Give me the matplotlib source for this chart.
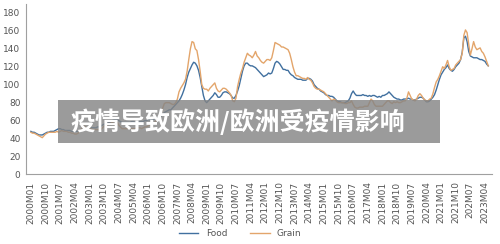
import matplotlib
matplotlib.use('Agg')
import matplotlib.pyplot as plt
from matplotlib.patches import Rectangle

# monthly index values, 2000M01 .. 2023M06
food_by_year = [
    [48, 47, 47, 46, 45, 44, 44, 44, 45, 46, 47, 47],   # 2000
    [48, 48, 48, 49, 50, 51, 51, 50, 50, 49, 49, 49],   # 2001
    [49, 48, 48, 48, 48, 48, 48, 49, 50, 51, 51, 51],   # 2002
    [52, 52, 52, 52, 52, 53, 53, 54, 55, 56, 57, 57],   # 2003
    [58, 58, 60, 61, 61, 61, 60, 59, 58, 58, 58, 58],   # 2004
    [58, 58, 59, 59, 58, 58, 58, 59, 59, 59, 60, 60],   # 2005
    [61, 61, 61, 61, 62, 62, 63, 64, 65, 67, 69, 70],   # 2006
    [71, 72, 72, 74, 76, 78, 80, 82, 85, 89, 94, 100],  # 2007
    [108, 114, 118, 122, 125, 124, 121, 116, 108, 98, 88, 82],  # 2008
    [80, 82, 84, 86, 88, 91, 89, 86, 86, 88, 91, 92],   # 2009
    [92, 91, 90, 88, 85, 85, 88, 93, 99, 107, 115, 121],  # 2010
    [124, 124, 122, 121, 121, 120, 119, 117, 115, 113, 111, 109],  # 2011
    [110, 111, 113, 112, 113, 118, 124, 126, 125, 123, 120, 117],  # 2012
    [117, 116, 116, 113, 111, 110, 108, 107, 106, 106, 106, 105],  # 2013
    [105, 105, 107, 107, 106, 104, 100, 98, 96, 95, 93, 92],  # 2014
    [91, 89, 88, 88, 87, 87, 86, 84, 82, 81, 81, 80],   # 2015
    [80, 80, 81, 82, 85, 90, 93, 90, 88, 88, 88, 88],   # 2016
    [89, 88, 88, 87, 88, 87, 88, 88, 87, 86, 87, 86],   # 2017
    [88, 88, 89, 90, 92, 90, 88, 86, 85, 84, 84, 83],   # 2018
    [83, 84, 84, 84, 85, 84, 84, 83, 83, 84, 85, 86],   # 2019
    [86, 85, 83, 81, 81, 82, 84, 86, 89, 94, 100, 106],  # 2020
    [111, 114, 117, 119, 122, 118, 116, 115, 117, 120, 122, 124],  # 2021
    [128, 136, 152, 154, 148, 137, 132, 131, 130, 130, 130, 129],  # 2022
    [128, 128, 127, 126, 123, 121],                      # 2023
]

grain_by_year = [
    [47, 46, 46, 45, 44, 43, 42, 41, 43, 45, 46, 47],   # 2000
    [47, 47, 47, 47, 48, 47, 48, 49, 48, 48, 48, 47],   # 2001
    [47, 46, 46, 45, 45, 46, 48, 51, 54, 54, 52, 51],   # 2002
    [51, 51, 50, 50, 50, 50, 50, 50, 52, 54, 55, 55],   # 2003
    [56, 57, 58, 59, 59, 58, 55, 53, 51, 51, 51, 51],   # 2004
    [52, 51, 51, 51, 51, 52, 52, 52, 51, 52, 53, 53],   # 2005
    [54, 55, 55, 56, 58, 60, 62, 64, 68, 74, 79, 80],   # 2006
    [80, 80, 79, 78, 78, 80, 84, 92, 96, 99, 102, 106],  # 2007
    [115, 128, 140, 148, 147, 140, 138, 128, 115, 100, 96, 95],  # 2008
    [95, 93, 96, 98, 100, 102, 96, 93, 92, 94, 96, 96],  # 2009
    [95, 93, 91, 88, 82, 81, 85, 98, 106, 113, 118, 125],  # 2010
    [130, 135, 133, 132, 130, 133, 137, 132, 130, 127, 125, 124],  # 2011
    [126, 128, 128, 127, 130, 138, 147, 146, 145, 144, 142, 142],  # 2012
    [141, 140, 139, 135, 128, 120, 114, 110, 110, 109, 108, 107],  # 2013
    [107, 106, 108, 106, 105, 102, 98, 96, 95, 95, 94, 93],  # 2014
    [92, 90, 88, 86, 84, 82, 84, 83, 81, 80, 80, 80],   # 2015
    [80, 79, 79, 80, 80, 82, 78, 75, 74, 74, 75, 75],   # 2016
    [75, 76, 76, 76, 80, 84, 82, 78, 76, 76, 76, 76],   # 2017
    [76, 78, 80, 82, 82, 80, 79, 81, 80, 81, 80, 80],   # 2018
    [81, 82, 82, 85, 92, 88, 84, 83, 82, 84, 88, 90],   # 2019
    [88, 85, 83, 82, 82, 84, 85, 90, 97, 103, 106, 110],  # 2020
    [115, 120, 118, 122, 127, 120, 116, 117, 118, 122, 124, 126],  # 2021
    [128, 135, 155, 161, 158, 145, 133, 140, 148, 142, 139, 140],  # 2022
    [141, 137, 135, 131, 126, 121],                      # 2023
]

tick_labels = ['2000M01', '2000M10', '2001M07', '2002M04', '2003M01', '2003M10',
               '2004M07', '2005M04', '2006M01', '2006M10', '2007M07', '2008M04',
               '2009M01', '2009M10', '2010M07', '2011M04', '2012M01', '2012M10',
               '2013M07', '2014M04', '2015M01', '2015M10', '2016M07', '2017M04',
               '2018M01', '2018M10', '2019M07', '2020M04', '2021M01', '2021M10',
               '202M07', '2023M04']

banner_text = '疫情导致欧洲/欧洲受疫情影响'

food = [v for year in food_by_year for v in year]
grain = [v for year in grain_by_year for v in year]
months = list(range(len(food)))

fig = plt.figure(figsize=(5, 2.44), dpi=100)
ax = fig.add_axes([0.052, 0.285, 0.932, 0.699])

ax.plot(months, food, color='#41709f', lw=1.0, label='Food')
ax.plot(months, grain, color='#e3a56b', lw=1.0, label='Grain')

ax.set_ylim(0, 190)
ax.set_yticks(range(0, 181, 20))
ax.set_xlim(-3, 283.3)
ax.set_xticks(range(0, 9 * len(tick_labels), 9))
ax.set_xticklabels(tick_labels, rotation=90)

ax.tick_params(axis='both', length=0, labelsize=6.5, colors='#555555')
ax.tick_params(axis='x', pad=5)
ax.tick_params(axis='y', pad=4)
for side in ('top', 'right'):
    ax.spines[side].set_visible(False)
ax.spines['left'].set_color('#a0a0a0')
ax.spines['bottom'].set_color('#a0a0a0')
ax.spines['left'].set_linewidth(0.8)
ax.spines['bottom'].set_linewidth(0.8)

fig.legend(loc='lower center', bbox_to_anchor=(0.48, -0.01), ncol=2, frameon=False,
           fontsize=6.5, handlelength=2.2, columnspacing=2.5, labelcolor='#555555')

# grey title banner laid over the chart
fig.patches.append(Rectangle((0.116, 0.413), 0.764, 0.1775, transform=fig.transFigure,
                             facecolor='#858585', alpha=0.82, edgecolor='none', zorder=5))
fig.text(0.14, 0.502, banner_text, color='white', fontsize=18, fontweight='bold',
         family=['Noto Sans CJK SC', 'DejaVu Sans'], ha='left', va='center', zorder=6)

fig.savefig('out.png', dpi=100)
